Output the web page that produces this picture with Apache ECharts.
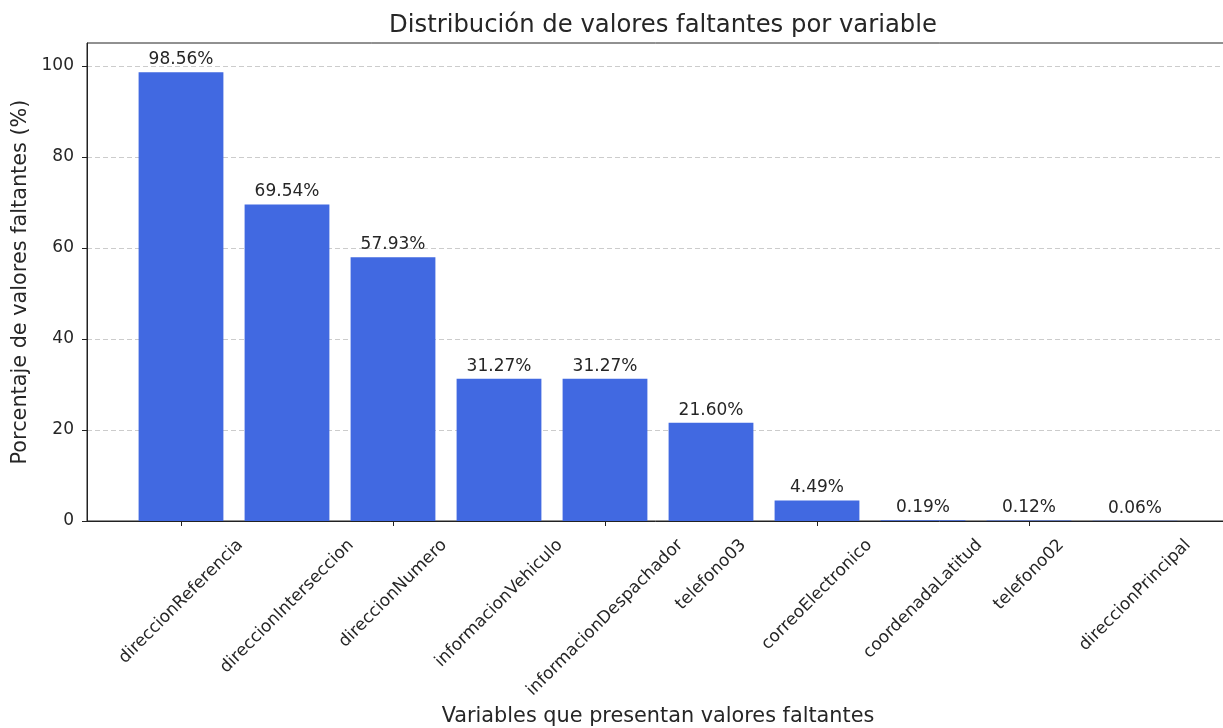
<!DOCTYPE html>
<html>
<head>
<meta charset="utf-8">
<script src="https://cdn.jsdelivr.net/npm/echarts@6/dist/echarts.min.js"></script>
<style>html,body{margin:0;padding:0;background:#fff}#c{width:1223px;height:728px}</style>
</head>
<body>
<div id="c"></div>
<script>
const categories = ['direccionReferencia','direccionInterseccion','direccionNumero','informacionVehiculo','informacionDespachador','telefono03','correoElectronico','coordenadaLatitud','telefono02','direccionPrincipal'];
const missingPct = [98.56, 69.54, 57.93, 31.27, 31.27, 21.60, 4.49, 0.19, 0.12, 0.06];
const yTicks = [0, 20, 40, 60, 80, 100];
const titleText = 'Distribución de valores faltantes por variable';
const xName = 'Variables que presentan valores faltantes';
const yName = 'Porcentaje de valores faltantes (%)';

const FONT = 'DejaVu Sans';
const TICK_FS = 17;
const NAME_FS = 20.8;
const TXT = '#262626';
const mctx = document.createElement('canvas').getContext('2d');
mctx.font = TICK_FS + 'px "' + FONT + '"';
const labelW = categories.map(c => mctx.measureText(c).width);

const chart = echarts.init(document.getElementById('c'), null, {renderer: 'canvas'});
chart.setOption({
  animation: false,
  textStyle: {fontFamily: FONT},
  title: {
    text: titleText, left: 658, top: 9, textAlign: 'center',
    textStyle: {fontFamily: FONT, fontSize: 24.3, fontWeight: 'normal', color: TXT}
  },
  grid: [
    {left: 87, right: -6, top: 43, bottom: 207, show: true, borderColor: '#222', borderWidth: 1,
     containLabel: false, outerBoundsMode: 'none'},
    {left: 128, right: 35, top: 43, bottom: 207, containLabel: false, outerBoundsMode: 'none'}
  ],
  xAxis: [
    {gridIndex: 0, type: 'value', min: -0.89, max: 9.89,
     axisLine: {show: true, onZero: false, lineStyle: {color: '#222', width: 1}},
     axisTick: {show: false}, axisLabel: {show: false}, splitLine: {show: false},
     name: xName, nameLocation: 'middle', nameGap: 185,
     nameTextStyle: {fontFamily: FONT, fontSize: NAME_FS, color: TXT}},
    {gridIndex: 1, type: 'category', data: categories,
     axisLine: {show: false, onZero: false},
     axisTick: {show: true, alignWithLabel: true, length: 5, lineStyle: {color: '#222', width: 1}},
     axisLabel: {show: false}, splitLine: {show: false}}
  ],
  yAxis: [
    {gridIndex: 0, type: 'value', min: 0, max: 105,
     axisLine: {show: true, onZero: false, lineStyle: {color: '#222', width: 1}},
     axisTick: {show: true, length: 5, customValues: yTicks, lineStyle: {color: '#222'}},
     axisLabel: {fontFamily: FONT, fontSize: TICK_FS, color: TXT, margin: 13, customValues: yTicks},
     splitLine: {show: true, lineStyle: {color: '#cccccc', type: [5, 3], width: 1}},
     name: yName, nameLocation: 'middle', nameGap: 47,
     nameTextStyle: {fontFamily: FONT, fontSize: NAME_FS, color: TXT}},
    {gridIndex: 1, type: 'value', min: 0, max: 105, show: false,
     axisLine: {show: false, onZero: false}, axisTick: {show: false}, axisLabel: {show: false}, splitLine: {show: false}}
  ],
  series: [
    {type: 'bar', xAxisIndex: 1, yAxisIndex: 1, data: missingPct, barWidth: '80%',
     itemStyle: {color: '#4169E1'},
     label: {show: true, position: 'top', distance: 4, fontFamily: FONT, fontSize: TICK_FS, color: TXT,
             formatter: p => p.value.toFixed(2) + '%'}},
    {type: 'custom', xAxisIndex: 1, yAxisIndex: 1, clip: false, silent: true,
     data: categories.map((c, i) => [i, 0]),
     renderItem: function (params, api) {
       const i = params.dataIndex;
       const p = api.coord([api.value(0), 0]);
       const w = labelW[i];
       const h = TICK_FS * 1.15;
       const dy = 14.5 + (w + h) * Math.SQRT1_2 / 2;
       return {
         type: 'text', x: p[0], y: p[1] + dy, rotation: Math.PI / 4,
         style: {text: categories[i], fontFamily: FONT, fontSize: TICK_FS, fill: TXT, align: 'center', verticalAlign: 'middle'}
       };
     }}
  ]
});
</script>
</body>
</html>
